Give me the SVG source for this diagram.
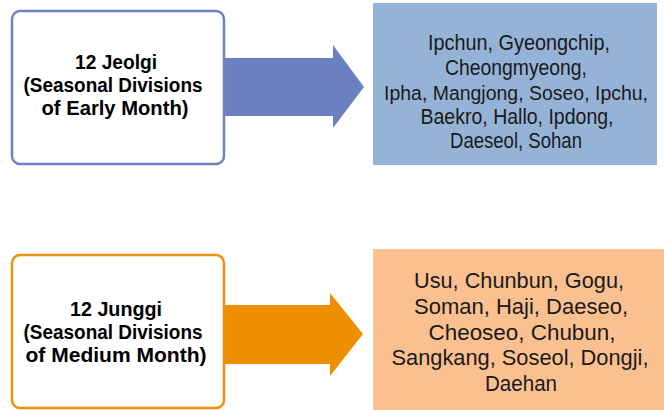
<svg xmlns="http://www.w3.org/2000/svg" width="664" height="410" viewBox="0 0 664 410">
<style>
.lbl{font-family:"Liberation Sans",Arial,sans-serif;font-weight:bold;font-size:20px;fill:#000;text-anchor:middle}
.lst{font-family:"Liberation Sans",Arial,sans-serif;font-size:21.5px;fill:#1a1a1a;text-anchor:middle}
</style>
<rect width="664" height="410" fill="#fff"/>
<g id="connectors">
<polygon id="arrow1" points="225,58 333,58 333,45 364,87 333,128 333,116 225,116" fill="#6b80c1"/>
<polygon id="arrow2" points="225,305 330,305 330,293 363,334 330,376 330,364 225,364" fill="#ee8f00"/>
</g>
<g id="node-jeolgi">
<rect x="12" y="11" width="212" height="153" rx="8" fill="#fff" stroke="#6f82c3" stroke-width="2.5"/>
<text class="lbl" x="116" y="69" textLength="82" lengthAdjust="spacingAndGlyphs">12 Jeolgi</text>
<text class="lbl" x="113" y="92" textLength="179" lengthAdjust="spacingAndGlyphs">(Seasonal Divisions</text>
<text class="lbl" x="115" y="115" textLength="147" lengthAdjust="spacingAndGlyphs">of Early Month)</text>
</g>
<g id="node-jeolgi-list">
<rect x="373" y="3" width="284" height="162" fill="#95b3d7"/>
<text class="lst" x="519" y="50" textLength="182" lengthAdjust="spacingAndGlyphs">Ipchun, Gyeongchip,</text>
<text class="lst" x="516" y="75" textLength="142" lengthAdjust="spacingAndGlyphs">Cheongmyeong,</text>
<text class="lst" x="516" y="100" style="font-size:20px" textLength="264" lengthAdjust="spacingAndGlyphs">Ipha, Mangjong, Soseo, Ipchu,</text>
<text class="lst" x="517" y="124" textLength="193" lengthAdjust="spacingAndGlyphs">Baekro, Hallo, Ipdong,</text>
<text class="lst" x="516" y="148" textLength="132" lengthAdjust="spacingAndGlyphs">Daeseol, Sohan</text>
</g>
<g id="node-junggi">
<rect x="12" y="255" width="212" height="153" rx="8" fill="#fff" stroke="#f0900b" stroke-width="2.5"/>
<text class="lbl" x="116" y="316" textLength="92" lengthAdjust="spacingAndGlyphs">12 Junggi</text>
<text class="lbl" x="113" y="339" textLength="179" lengthAdjust="spacingAndGlyphs">(Seasonal Divisions</text>
<text class="lbl" x="116" y="362" textLength="181" lengthAdjust="spacingAndGlyphs">of Medium Month)</text>
</g>
<g id="node-junggi-list">
<rect x="373" y="249" width="291" height="161" fill="#fac090"/>
<text class="lst" x="519" y="288" textLength="210" lengthAdjust="spacingAndGlyphs">Usu, Chunbun, Gogu,</text>
<text class="lst" x="521" y="314" textLength="214" lengthAdjust="spacingAndGlyphs">Soman, Haji, Daeseo,</text>
<text class="lst" x="522" y="340" textLength="187" lengthAdjust="spacingAndGlyphs">Cheoseo, Chubun,</text>
<text class="lst" x="520" y="365" textLength="257" lengthAdjust="spacingAndGlyphs">Sangkang, Soseol, Dongji,</text>
<text class="lst" x="521" y="391" textLength="72" lengthAdjust="spacingAndGlyphs">Daehan</text>
</g>
</svg>
